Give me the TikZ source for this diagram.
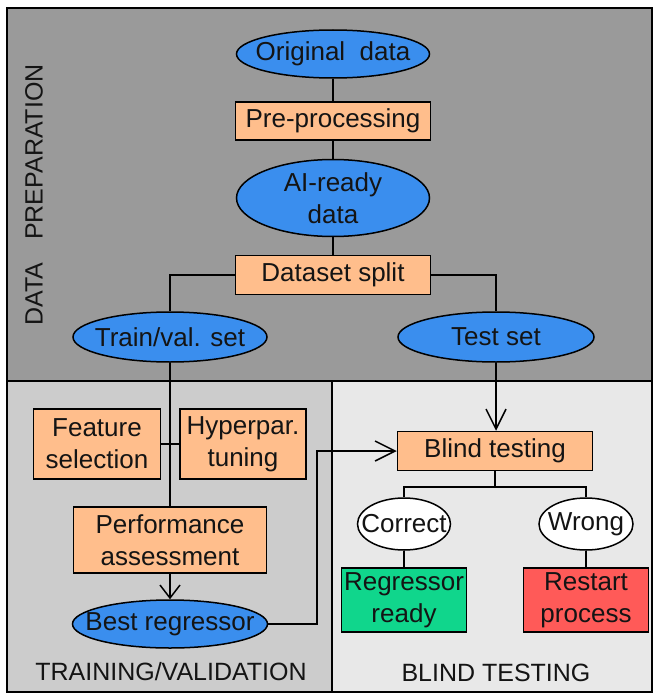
\documentclass[tikz,border=0pt]{standalone}
\usepackage{fontspec}
\setmainfont{Liberation Sans}
\usetikzlibrary{shapes.geometric,arrows.meta}
\definecolor{topgray}{RGB}{154,154,154}
\definecolor{leftgray}{RGB}{204,204,204}
\definecolor{rightgray}{RGB}{232,232,232}
\definecolor{ellblue}{RGB}{58,142,238}
\definecolor{boxorange}{RGB}{255,190,140}
\definecolor{boxgreen}{RGB}{16,214,140}
\definecolor{boxred}{RGB}{255,90,88}
\definecolor{txt}{RGB}{20,20,20}
\begin{document}
\begin{tikzpicture}[x=1pt,y=-1pt,
  every node/.style={font=\fontsize{26}{32}\selectfont, text=txt},
  ell/.style={ellipse, draw=black, line width=1.5pt, fill=ellblue, inner sep=0pt},
  whiteell/.style={ell, fill=white},
  obox/.style={rectangle, draw=black, line width=1.5pt, fill=boxorange, inner sep=0pt, align=center},
  conn/.style={draw=black, line width=1.5pt},
  arr/.style={conn, -{Straight Barb[length=20pt,width=20pt,line width=1.5pt]}},
  arrs/.style={conn, -{Straight Barb[length=13pt,width=20pt,line width=1.5pt]}},
  region/.style={draw=black, line width=1.5pt}]
\useasboundingbox (0,0) rectangle (653,693);
% regions
\fill[white] (0,0) rectangle (653,693);
\path[region, fill=topgray] (7,8) rectangle (652,381);
\path[region, fill=leftgray] (7,381) rectangle (332,692);
\path[region, fill=rightgray] (332,381) rectangle (652,692);
% section labels
\node[rotate=90, inner sep=0pt, font=\fontsize{25}{30}\selectfont] (lblprep) at (34,195) {DATA\hspace{16pt} PREPARATION};
\node[inner sep=0pt, font=\fontsize{25}{30}\selectfont] (lbltrain) at (171,672) {TRAINING/VALIDATION};
\node[inner sep=0pt, font=\fontsize{25}{30}\selectfont] (lblblind) at (496,673) {BLIND TESTING};
% nodes
\node[ell, minimum width=193pt, minimum height=48pt, label={center:Original~ data}] (orig) at (333,54) {};
\node[obox, minimum width=195pt, minimum height=38pt] (pre) at (333,121) {Pre-processing};
\node[ell, minimum width=193pt, minimum height=77pt, label={[align=center]center:AI-ready\\data}] (aiready) at (333,198) {};
\node[obox, minimum width=195pt, minimum height=39pt] (split) at (333,275) {Dataset split};
\node[ell, minimum width=194pt, minimum height=50pt, label={center:Train/val. set}] (train) at (170,337) {};
\node[ell, minimum width=196pt, minimum height=50pt, label={center:Test set}] (test) at (496,337) {};
\node[obox, minimum width=127pt, minimum height=70pt] (feat) at (97,444) {Feature\\selection};
\node[obox, minimum width=126pt, minimum height=70pt] (hyper) at (243,444) {Hyperpar.\\tuning};
\node[obox, minimum width=193pt, minimum height=66pt] (perf) at (170,540) {Performance\\assessment};
\node[ell, minimum width=195pt, minimum height=48pt, label={center:Best regressor}] (best) at (170,624) {};
\node[obox, minimum width=195pt, minimum height=39pt] (blind) at (495,451) {Blind testing};
\node[whiteell, minimum width=93pt, minimum height=52pt, label={center:Correct}] (correct) at (404,524) {};
\node[whiteell, minimum width=94pt, minimum height=52pt, label={center:Wrong}] (wrong) at (586,524) {};
\node[obox, fill=boxgreen, minimum width=125pt, minimum height=64pt] (ready) at (404,600) {Regressor\\ready};
\node[obox, fill=boxred, minimum width=125pt, minimum height=64pt] (restart) at (586,600) {Restart\\process};
% connectors
\draw[conn] (orig) -- (pre);
\draw[conn] (pre) -- (aiready);
\draw[conn] (aiready) -- (split);
\draw[conn] (split.west) -| (train.north);
\draw[conn] (split.east) -| (test.north);
\draw[conn] (train.south) -- (perf.north);
\draw[conn] (feat.east) -- (hyper.west);
\draw[arrs] (perf.south) -- (best.north);
\coordinate (bestturn) at (317,624);
\draw[arr] (best.east) -- (bestturn) |- (blind.west);
\draw[arr] (test.south) -- (test.south |- blind.north);
\coordinate (fork) at (495,487);
\draw[conn] (blind.south) -- (fork);
\draw[conn] (fork) -| (correct.north);
\draw[conn] (fork) -| (wrong.north);
\draw[conn] (correct) -- (ready);
\draw[conn] (wrong) -- (restart);
\end{tikzpicture}
\end{document}
